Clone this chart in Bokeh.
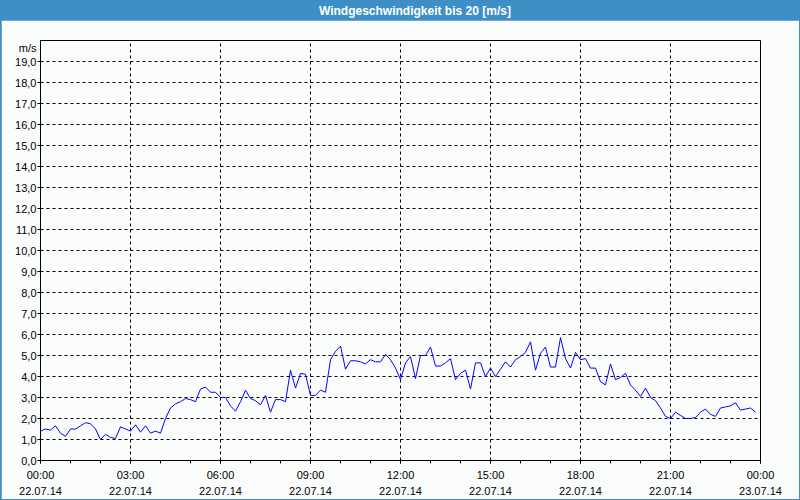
from bokeh.plotting import figure
from bokeh.layouts import column
from bokeh.models import FixedTicker, Range1d, LinearAxis
from bokeh.core.properties import value
from bokeh.embed import file_html
from bokeh.resources import INLINE
import pandas as pd

# ---------------- data ----------------
title_text = "Windgeschwindigkeit bis 20 [m/s]"
unit_label = "m/s"
start_time = "2014-07-22 00:00"
sample_step = "10min"

wind_speed = [
    1.4, 1.5, 1.45, 1.65, 1.3, 1.15, 1.5, 1.5, 1.65, 1.8, 1.75, 1.5,
    1.0, 1.25, 1.1, 1.05, 1.6, 1.5, 1.4, 1.7, 1.35, 1.65, 1.3, 1.4,
    1.3, 2.0, 2.5, 2.7, 2.8, 2.95, 2.9, 2.8, 3.4, 3.5, 3.25, 3.25,
    3.0, 3.0, 2.6, 2.35, 2.8, 3.35, 2.95, 2.85, 2.65, 3.1, 2.3, 2.9,
    2.9, 2.8, 4.3, 3.45, 4.15, 4.1, 3.1, 3.1, 3.35, 3.25, 4.8, 5.2,
    5.45, 4.35, 4.75, 4.75, 4.7, 4.6, 4.8, 4.7, 4.7, 5.05, 4.8, 4.4,
    3.85, 4.65, 4.95, 3.9, 5.0, 5.0, 5.4, 4.5, 4.5, 4.65, 4.85, 3.85,
    4.15, 4.3, 3.4, 4.65, 4.65, 4.0, 4.4, 4.0, 4.35, 4.7, 4.45, 4.8,
    4.95, 5.15, 5.65, 4.3, 5.1, 5.4, 4.45, 4.45, 5.85, 4.85, 4.4, 5.15,
    4.8, 4.85, 4.4, 4.4, 3.75, 3.6, 4.6, 3.85, 3.95, 4.15, 3.6, 3.35,
    3.05, 3.45, 3.0, 2.85, 2.5, 2.1, 2.0, 2.3, 2.15, 2.0, 2.0, 2.05,
    2.3, 2.45, 2.2, 2.1, 2.5, 2.55, 2.6, 2.75, 2.4, 2.45, 2.5, 2.3,
]

x_tick_hours = [0, 3, 6, 9, 12, 15, 18, 21, 24]
x_tick_labels = [
    "00:00\n22.07.14", "03:00\n22.07.14", "06:00\n22.07.14",
    "09:00\n22.07.14", "12:00\n22.07.14", "15:00\n22.07.14",
    "18:00\n22.07.14", "21:00\n22.07.14", "00:00\n23.07.14",
]
x_minor_hours = [0, 1, 2, 3, 4, 5, 6, 7, 8, 9, 10, 11, 12, 13, 14, 15,
                 16, 17, 18, 19, 20, 21, 22, 23, 24]
y_ticks = [0, 1, 2, 3, 4, 5, 6, 7, 8, 9, 10, 11, 12, 13, 14, 15, 16, 17, 18, 19]
y_tick_labels = ["0,0", "1,0", "2,0", "3,0", "4,0", "5,0", "6,0", "7,0",
                 "8,0", "9,0", "10,0", "11,0", "12,0", "13,0", "14,0",
                 "15,0", "16,0", "17,0", "18,0", "19,0"]

times = pd.date_range(start_time, periods=len(wind_speed), freq=sample_step)
hours = ((times - times[0]).total_seconds() / 3600.0).tolist()

# ---------------- style ----------------
BG = "#fbfdfc"
BAR = "#3d8fc6"
FONT = "Liberation Sans"
UNIT_POS = 19.66  # where the unit text sits on the value scale

# title bar as its own small figure
t = figure(width=798, height=20, output_backend="svg", toolbar_location=None,
           x_range=Range1d(0, 798), y_range=Range1d(0, 20), min_border=0,
           background_fill_color=BAR, border_fill_color=BAR)
t.outline_line_color = None
t.axis.visible = False
t.grid.visible = False
t.text(x=[415], y=[10], text=[title_text], text_align="center",
       text_baseline="middle", text_color="white", text_font_style="bold",
       text_font=value(FONT), text_font_size="12px")

p = figure(width=798, height=479, output_backend="svg", toolbar_location=None,
           x_range=Range1d(0, 24), y_range=Range1d(0, 20),
           min_border_left=39, min_border_right=39,
           min_border_top=20, min_border_bottom=39,
           background_fill_color=BG, border_fill_color=BG)
p.outline_line_color = "black"
p.outline_line_width = 1
p.outline_line_alpha = 1

p.line(hours, wind_speed, line_color="#0000ff", line_width=1)

# x axis
p.xaxis.ticker = FixedTicker(ticks=x_tick_hours, minor_ticks=x_minor_hours)
p.xaxis.major_label_overrides = dict(zip(x_tick_hours, x_tick_labels))
p.xaxis.major_label_standoff = 5
p.xaxis.major_label_text_line_height = 1.35

# y axis nearest the frame: line and tick marks only
p.yaxis.ticker = FixedTicker(ticks=y_ticks)
p.yaxis.major_label_overrides = dict(zip(y_ticks, [""] * len(y_ticks)))
p.yaxis.major_label_standoff = 0

for ax in (p.xaxis, p.yaxis):
    ax.axis_line_color = "black"
    ax.major_tick_line_color = "black"
    ax.minor_tick_line_color = "black"
    ax.major_tick_in = 0
    ax.major_tick_out = 3
    ax.minor_tick_in = 0
    ax.minor_tick_out = 3
    ax.major_label_text_font = FONT
    ax.major_label_text_font_size = "11px"
    ax.major_label_text_color = "black"

# outer y axis: value labels plus the unit, no line and no ticks
label_ticks = y_ticks + [UNIT_POS]
label_texts = y_tick_labels + [unit_label]
ylab = LinearAxis(ticker=FixedTicker(ticks=label_ticks),
                  major_label_overrides=dict(zip(label_ticks, label_texts)),
                  axis_line_color=None, major_tick_line_color=None,
                  minor_tick_line_color=None, major_tick_in=0, major_tick_out=0,
                  minor_tick_in=0, minor_tick_out=0, major_label_standoff=1,
                  major_label_text_font=FONT, major_label_text_font_size="11px",
                  major_label_text_color="black")
p.add_layout(ylab, "left")

# grid
p.xgrid.ticker = FixedTicker(ticks=[3, 6, 9, 12, 15, 18, 21])
p.ygrid.ticker = FixedTicker(ticks=y_ticks[1:])
for g in (p.xgrid, p.ygrid):
    g.grid_line_color = "black"
    g.grid_line_dash = "3 3"
    g.grid_line_width = 1
    g.grid_line_alpha = 1

layout = column(t, p, spacing=0,
                styles={"background-color": BAR, "padding": "0px 1px 1px 1px"})

open("out.html", "w").write(file_html(layout, INLINE))
